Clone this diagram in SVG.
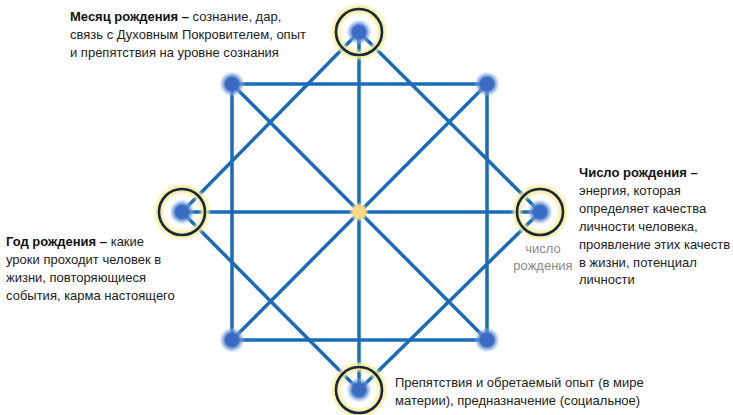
<svg xmlns="http://www.w3.org/2000/svg" width="733" height="415" viewBox="0 0 733 415">
<defs>
<radialGradient id="gBlue">
<stop offset="0" stop-color="#3a6cc4"/>
<stop offset="0.5" stop-color="#3a6cc4"/>
<stop offset="0.75" stop-color="#7aa0dc" stop-opacity="0.6"/>
<stop offset="1" stop-color="#b8cdf0" stop-opacity="0"/>
</radialGradient>
<radialGradient id="gCenter">
<stop offset="0" stop-color="#fbd985"/>
<stop offset="0.6" stop-color="#fbd985"/>
<stop offset="1" stop-color="#fde9b0" stop-opacity="0"/>
</radialGradient>
<filter id="blur" x="-50%" y="-50%" width="200%" height="200%">
<feGaussianBlur stdDeviation="1.6"/>
</filter>
</defs>
<style>
.ln{stroke:#1b6cb8;stroke-width:3.5;fill:none;stroke-linecap:round}
.glow{fill:none;stroke:#f4ee98;stroke-width:8}
.ring{fill:none;stroke:#1a2443;stroke-width:2.6}
.t{font-family:"Liberation Sans",Arial,sans-serif;font-size:13px;fill:#222}
.b{font-weight:bold;fill:#111}
.g{font-family:"Liberation Sans",Arial,sans-serif;font-size:13px;fill:#8a8a8a;text-anchor:middle}
</style>
<g id="connectors">
<polygon class="ln" points="232,84 487,84 487,340 232,340"/>
<polygon class="ln" points="359,32 540,212 359,390 182,212"/>
<line class="ln" x1="359" y1="32" x2="359" y2="390"/>
<line class="ln" x1="182" y1="212" x2="540" y2="212"/>
<line class="ln" x1="232" y1="84" x2="487" y2="340"/>
<line class="ln" x1="487" y1="84" x2="232" y2="340"/>
</g>
<g id="node-top">
<circle class="glow" cx="359" cy="32" r="23" filter="url(#blur)"/>
<circle cx="359" cy="32" r="13" fill="url(#gBlue)"/>
<circle class="ring" cx="359" cy="32" r="23"/>
</g>
<g id="node-left">
<circle class="glow" cx="182" cy="212" r="23" filter="url(#blur)"/>
<circle cx="182" cy="212" r="13" fill="url(#gBlue)"/>
<circle class="ring" cx="182" cy="212" r="23"/>
</g>
<g id="node-right">
<circle class="glow" cx="540" cy="212" r="23" filter="url(#blur)"/>
<circle cx="540" cy="212" r="13" fill="url(#gBlue)"/>
<circle class="ring" cx="540" cy="212" r="23"/>
</g>
<g id="node-bottom">
<circle class="glow" cx="359" cy="390" r="23" filter="url(#blur)"/>
<circle cx="359" cy="390" r="13" fill="url(#gBlue)"/>
<circle class="ring" cx="359" cy="390" r="23"/>
</g>
<g id="node-tl"><circle cx="232" cy="84" r="13" fill="url(#gBlue)"/></g>
<g id="node-tr"><circle cx="487" cy="84" r="13" fill="url(#gBlue)"/></g>
<g id="node-bl"><circle cx="232" cy="340" r="13" fill="url(#gBlue)"/></g>
<g id="node-br"><circle cx="487" cy="340" r="13" fill="url(#gBlue)"/></g>
<g id="node-center"><circle cx="359" cy="212" r="10" fill="url(#gCenter)"/></g>
<g id="label-top">
<text class="t" x="70" y="21"><tspan class="b">Месяц рождения –</tspan> сознание, дар,</text>
<text class="t" x="70" y="39">связь с Духовным Покровителем, опыт</text>
<text class="t" x="70" y="57">и препятствия на уровне сознания</text>
</g>
<g id="label-left">
<text class="t" x="6" y="246"><tspan class="b">Год рождения –</tspan> какие</text>
<text class="t" x="6" y="264">уроки проходит человек в</text>
<text class="t" x="6" y="282">жизни, повторяющиеся</text>
<text class="t" x="6" y="300">события, карма настоящего</text>
</g>
<g id="label-right">
<text class="t b" x="579" y="177">Число рождения –</text>
<text class="t" x="579" y="195">энергия, которая</text>
<text class="t" x="579" y="213">определяет качества</text>
<text class="t" x="579" y="231">личности человека,</text>
<text class="t" x="579" y="249">проявление этих качеств</text>
<text class="t" x="579" y="267">в жизни, потенциал</text>
<text class="t" x="579" y="284">личности</text>
</g>
<g id="label-number">
<text class="g" x="543" y="253">число</text>
<text class="g" x="543" y="270">рождения</text>
</g>
<g id="label-bottom">
<text class="t" x="395" y="387">Препятствия и обретаемый опыт (в мире</text>
<text class="t" x="395" y="405">материи), предназначение (социальное)</text>
</g>
</svg>
